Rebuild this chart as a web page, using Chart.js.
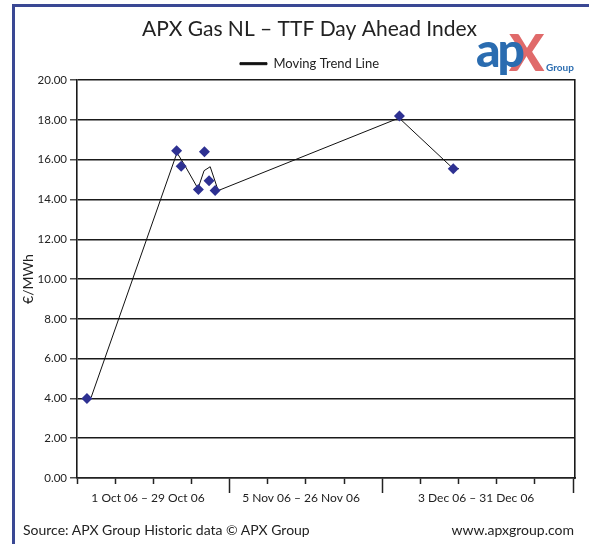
<!DOCTYPE html>
<html>
<head>
<meta charset="utf-8">
<script src="https://cdn.jsdelivr.net/npm/chart.js"></script>
<style>
body { margin: 0; background: #fff; }
#wrap { position: relative; width: 589px; height: 544px; overflow: hidden; font-family: Lato, sans-serif; color: #222; }
#frame { position: absolute; left: 12px; top: 4px; width: 620px; height: 600px; border-left: 3px solid #3a4894; border-top: 3px solid #3a4894; }
canvas { position: absolute; left: 0; top: 0; }
.logo { position: absolute; white-space: nowrap; font-weight: 900; line-height: 1; }
.ap { left: 476px; top: 25px; color: #2a6cb0; font-size: 48px; letter-spacing: -3px; z-index: 2; }
.x { left: 509px; top: 25px; color: #e06a6a; font-size: 52px; z-index: 1; }
.grp { left: 546px; top: 62px; color: #2a6cb0; font-size: 10px; font-weight: 700; }
.foot { position: absolute; top: 521px; font-size: 14px; }
</style>
</head>
<body>
<div id="wrap">
  <div id="frame"></div>
  <canvas id="c" width="589" height="544"></canvas>
  <span class="logo ap">ap</span><span class="logo x">X</span><span class="logo grp">Group</span>
  <div class="foot" style="left:23px">Source: APX Group Historic data © APX Group</div>
  <div class="foot" style="right:15px">www.apxgroup.com</div>
</div>
<script>
// x is in weeks from 1 Oct 06
const weekTicks = [0, 1, 2, 3, 4, 5, 6, 7, 8, 9, 10, 11, 12, 13];
const monthTicks = [4, 8, 13];
const periodLabels = ['1 Oct 06 – 29 Oct 06', '5 Nov 06 – 26 Nov 06', '3 Dec 06 – 31 Dec 06'];
const labelAt = [1.86, 5.87, 10.46];

const priceX = [0.26, 2.61, 2.73, 3.18, 3.34, 3.46, 3.62, 8.45, 9.86];
const priceY = [4.0, 16.45, 15.67, 14.5, 16.4, 14.95, 14.45, 18.2, 15.55];

const trendX = [0.37, 2.62, 2.80, 3.17, 3.33, 3.49, 3.70, 8.44, 9.86, 10.01];
const trendY = [4.05, 16.35, 15.8, 14.55, 15.45, 15.65, 14.45, 18.1, 15.55, 15.55];

Chart.defaults.font.family = 'Lato, sans-serif';
Chart.defaults.color = '#222';

const canvas = document.getElementById('c');

var config = {
    type: 'scatter',
    data: {
        datasets: [
            {
                label: 'APX Gas NL TTF Day Ahead',
                data: priceX.map((x, i) => ({ x: x, y: priceY[i] })),
                pointStyle: 'rectRot',
                pointRadius: 5.5,
                pointHoverRadius: 5.5,
                backgroundColor: '#2e3192',
                borderColor: '#2e3192',
                borderWidth: 0,
                showLine: false
            },
            {
                label: 'Moving Trend Line',
                data: trendX.map((x, i) => ({ x: x, y: trendY[i] })),
                showLine: true,
                pointRadius: 0,
                borderColor: '#111',
                backgroundColor: '#111',
                borderWidth: 1,
                tension: 0
            }
        ]
    },
    options: {
        responsive: false,
        animation: false,
        layout: { padding: { left: 30, right: 0, top: 0, bottom: 40 } },
        plugins: {
            title: {
                display: true,
                text: 'APX Gas NL – TTF Day Ahead Index',
                font: { size: 21, weight: 'normal' },
                color: '#222',
                padding: { top: 17, bottom: 6 }
            },
            legend: {
                display: true,
                labels: {
                    filter: (item) => item.datasetIndex === 1,
                    boxWidth: 27,
                    boxHeight: 2,
                    font: { size: 13 },
                    padding: 9,
                    color: '#222'
                }
            },
            tooltip: { enabled: false }
        },
        scales: {
            x: {
                type: 'linear',
                position: 'bottom',
                min: 0,
                max: 13.05,
                afterBuildTicks: (axis) => { axis.ticks = weekTicks.map(v => ({ value: v })); },
                afterFit: (axis) => { axis.height = 6; },
                ticks: { display: false },
                grid: { drawOnChartArea: false, tickLength: 6, tickColor: '#222', tickWidth: 1.5 },
                border: { display: true, color: '#222', width: 1.5 }
            },
            xMajor: {
                type: 'linear',
                position: 'bottom',
                min: 0,
                max: 13.05,
                afterBuildTicks: (axis) => {
                    axis.ticks = monthTicks.concat(labelAt).sort((a, b) => a - b).map(v => ({ value: v }));
                },
                afterFit: (axis) => { axis.height = 20; },
                ticks: {
                    autoSkip: false,
                    maxRotation: 0,
                    padding: -2,
                    font: { size: 12 },
                    color: '#222',
                    callback: (v) => {
                        const i = labelAt.indexOf(v);
                        return i >= 0 ? periodLabels[i] : '';
                    }
                },
                grid: {
                    drawOnChartArea: false,
                    tickLength: 9,
                    tickWidth: 1.5,
                    tickColor: (ctx) => monthTicks.includes(ctx.tick.value) ? '#222' : 'rgba(0,0,0,0)'
                },
                border: { display: false }
            },
            y: {
                min: 0,
                max: 20,
                afterFit: (axis) => { axis.width = 47; },
                ticks: {
                    stepSize: 2,
                    padding: 3,
                    font: { size: 11.5 },
                    color: '#222',
                    callback: (v) => v.toFixed(2)
                },
                grid: { color: '#1a1a1a', lineWidth: 1.6, tickLength: 7, tickColor: '#222', tickWidth: 1.2 },
                border: { display: true, color: '#1a1a1a', width: 1.6 },
                title: {
                    display: true,
                    text: '€/MWh',
                    font: { size: 14 },
                    color: '#222',
                    padding: { top: -10, bottom: 0 }
                }
            },
            y2: {
                position: 'right',
                min: 0,
                max: 20,
                afterFit: (axis) => { axis.width = 14; },
                ticks: { display: false },
                grid: { display: false, drawTicks: false },
                border: { display: true, color: '#1a1a1a', width: 1.6 }
            }
        }
    }
};

const chart = new Chart(canvas, config);
</script>
</body>
</html>
